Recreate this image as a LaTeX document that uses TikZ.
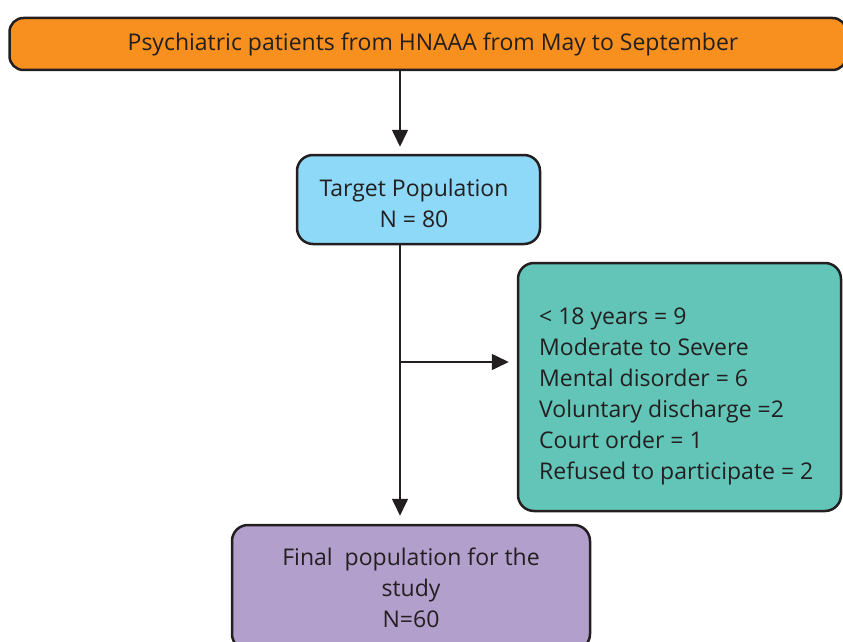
\documentclass[tikz,border=0pt]{standalone}
\usepackage{fontspec}
\setmainfont{Open Sans}
\usetikzlibrary{arrows.meta}
\definecolor{borange}{HTML}{F7901E}
\definecolor{bblue}{HTML}{8ED8F8}
\definecolor{bteal}{HTML}{63C5B8}
\definecolor{bpurple}{HTML}{B29FCB}
\definecolor{bline}{HTML}{231F20}
\begin{document}
\begin{tikzpicture}[x=1pt,y=-1pt,
  box/.style={draw=bline, line width=2.5pt, rounded corners=16pt, inner sep=0pt, align=center, font=\fontsize{23}{31}\selectfont, text=bline},
  lbl/.style={text=bline, font=\fontsize{23}{31}\selectfont, inner sep=0pt},
  conn/.style={draw=bline, line width=1.6pt, -{Triangle[length=17pt,width=16pt]}, shorten >=7pt}
]
\useasboundingbox (0,0) rectangle (843,642);
\begin{scope}
\clip (0,0) rectangle (843,642);
\node[box, fill=borange, minimum width=837pt, minimum height=52pt, rounded corners=14pt] (top) at (428,44) {};
\node[lbl] (toptext) at (433,44) {Psychiatric patients from HNAAA from May to September};
\node[box, fill=bblue, minimum width=243pt, minimum height=89pt] (target) at (418.5,199.5) {};
\node[lbl, align=center] (targettext) at (414,203) {Target Population\\N = 80};
\node[box, fill=bteal, minimum width=323pt, minimum height=248pt] (excl) at (679.5,387) {};
\node[lbl, anchor=west, align=left] (excltext) at (539,396) {%
  < 18 years = 9\\
  Moderate to Severe\\
  Mental disorder = 6\\
  Voluntary discharge =2\\
  Court order = 1\\
  Refused to participate = 2};
\node[box, fill=bpurple, minimum width=358pt, minimum height=125pt] (final) at (411,587.5) {Final\ \ population for the\\study\\N=60};
\coordinate (col) at (400,0);
\coordinate (br) at (400,362);
\draw[conn] (top.south -| col) -- (target.north -| col);
\draw[conn, shorten >=8pt] (target.south -| col) -- (final.north -| col);
\draw[conn, shorten >=8pt] (br) -- (excl.west |- br);
\end{scope}
\end{tikzpicture}
\end{document}
